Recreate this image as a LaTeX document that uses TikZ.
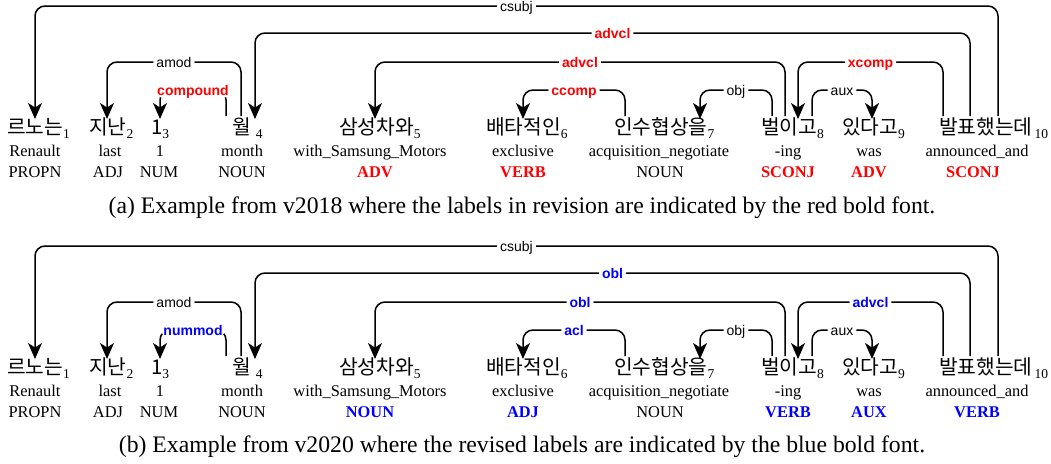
\documentclass[tikz,border=0pt]{standalone}
\usepackage{fontspec}
\setmainfont{Liberation Serif}
\newfontfamily\labelfont{Liberation Sans}
\newfontfamily\krfont{Noto Sans CJK KR}
\usepackage{tikz}
\usetikzlibrary{arrows.meta,calc}
\definecolor{revred}{RGB}{255,0,0}
\definecolor{revblue}{RGB}{0,0,255}
\newcommand{\wsub}[1]{\raisebox{-4.5pt}{\rmfamily\fontsize{13.5}{13.5}\selectfont #1}}
\newcommand{\deparc}[5]{
  \coordinate (mid) at ($(#1)!.5!(#2)$);
  \draw[deprel] (#1) |- (mid |- #3) node[#5] {#4} -| (#2);
}
\begin{document}
\begin{tikzpicture}[x=1pt,y=-1pt]
\tikzstyle{word}=[anchor=base west,inner sep=0pt,font=\krfont\fontsize{20.3}{20.3}\selectfont]
\tikzstyle{gloss}=[anchor=base,inner sep=0pt,font=\fontsize{16.4}{18}\selectfont]
\tikzstyle{tag}=[anchor=base,inner sep=0pt,font=\fontsize{16.4}{18}\selectfont]
\tikzstyle{caption}=[anchor=base,inner sep=0pt,font=\fontsize{23.7}{26}\selectfont]
\tikzstyle{deprel}=[line width=1.5pt,rounded corners=10pt,-{Stealth[length=16pt,width=14pt,inset=4.5pt]}]
\tikzstyle{lab}=[fill=white,inner sep=3pt,text height=10pt,text depth=0pt,font=\labelfont\fontsize{14}{14}\selectfont]
\tikzstyle{laba}=[lab,text=revred,font=\labelfont\bfseries\fontsize{14}{14}\selectfont]
\tikzstyle{labb}=[lab,text=revblue,font=\labelfont\bfseries\fontsize{14}{14}\selectfont]
\useasboundingbox (0,0) rectangle (1051,463);

\foreach \pan/\dy in {a/0,b/240}{
  \begin{scope}[yshift=-\dy pt]
  \foreach \n/\x/\kr in {1/7/르노는,2/89/지난,3/151/1,4/232/{월\hspace{5pt}},5/339/삼성차와,
      6/486/배타적인,7/614/인수협상을,8/761/벌이고,9/842/있다고,10/939/{발표했는데\hspace{2pt}}}
    \node[word] (\pan\n) at (\x,134) {\kr\wsub{\n}};
  \foreach \n/\x/\gl in {1/35/Renault,2/110/last,3/160/1,4/242/month,5/370/with\_Samsung\_Motors,
      6/523/exclusive,7/659/acquisition\_negotiate,8/788/-ing,9/869/was,10/977/announced\_and}
    \node[gloss] (\pan g\n) at (\x,156) {\gl};
  \foreach \port/\x/\y in {1i/35/119,2i/107/119,3i/160/119,4o1/226/116,4o2/241/116,4i/255/119,
      5i/375/119,6i/523/119,7o/625/116,7i/700/119,8o1/772/116,8o2/785/116,8i/798/119,
      8o3/812/116,9i/872/119,10o1/943/116,10o2/970/116,10o3/998/116}
    \coordinate (\pan\port) at (\x,\y);
  \foreach \lv/\y in {1/6,2/33,3/62,4/90}
    \coordinate (\pan L\lv) at (0,\y);
  \end{scope}
}

\foreach \n/\x/\t/\col in {1/35/PROPN/black,2/108/ADJ/black,3/159/NUM/black,4/242/NOUN/black,
    5/375/\textbf{ADV}/revred,6/523/\textbf{VERB}/revred,7/660/NOUN/black,
    8/788/\textbf{SCONJ}/revred,9/869/\textbf{ADV}/revred,10/973/\textbf{SCONJ}/revred}
  \node[tag,text=\col] (at\n) at (\x,177) {\t};
\foreach \n/\x/\t/\col in {1/35/PROPN/black,2/108/ADJ/black,3/159/NUM/black,4/242/NOUN/black,
    5/370/\textbf{NOUN}/revblue,6/523/\textbf{ADJ}/revblue,7/660/NOUN/black,
    8/788/\textbf{VERB}/revblue,9/869/\textbf{AUX}/revblue,10/977/\textbf{VERB}/revblue}
  \node[tag,text=\col] (bt\n) at (\x,417) {\t};

\deparc{a10o3}{a1i}{aL1}{csubj}{lab}
\deparc{a10o2}{a4i}{aL2}{advcl}{laba}
\deparc{a4o2}{a2i}{aL3}{amod}{lab}
\deparc{a4o1}{a3i}{aL4}{compound}{laba}
\deparc{a8o2}{a5i}{aL3}{advcl}{laba}
\deparc{a7o}{a6i}{aL4}{ccomp}{laba}
\deparc{a8o1}{a7i}{aL4}{obj}{lab}
\deparc{a10o1}{a8i}{aL3}{xcomp}{laba}
\deparc{a8o3}{a9i}{aL4}{aux}{lab}

\deparc{b10o3}{b1i}{bL1}{csubj}{lab}
\deparc{b10o2}{b4i}{bL2}{obl}{labb}
\deparc{b4o2}{b2i}{bL3}{amod}{lab}
\deparc{b4o1}{b3i}{bL4}{nummod}{labb}
\deparc{b8o2}{b5i}{bL3}{obl}{labb}
\deparc{b7o}{b6i}{bL4}{acl}{labb}
\deparc{b8o1}{b7i}{bL4}{obj}{lab}
\deparc{b10o1}{b8i}{bL3}{advcl}{labb}
\deparc{b8o3}{b9i}{bL4}{aux}{lab}

\node[caption] (capa) at (522,213) {(a) Example from v2018 where the labels in revision are indicated by the red bold font.};
\node[caption] (capb) at (522,452) {(b) Example from v2020 where the revised labels are indicated by the blue bold font.};
\end{tikzpicture}
\end{document}
